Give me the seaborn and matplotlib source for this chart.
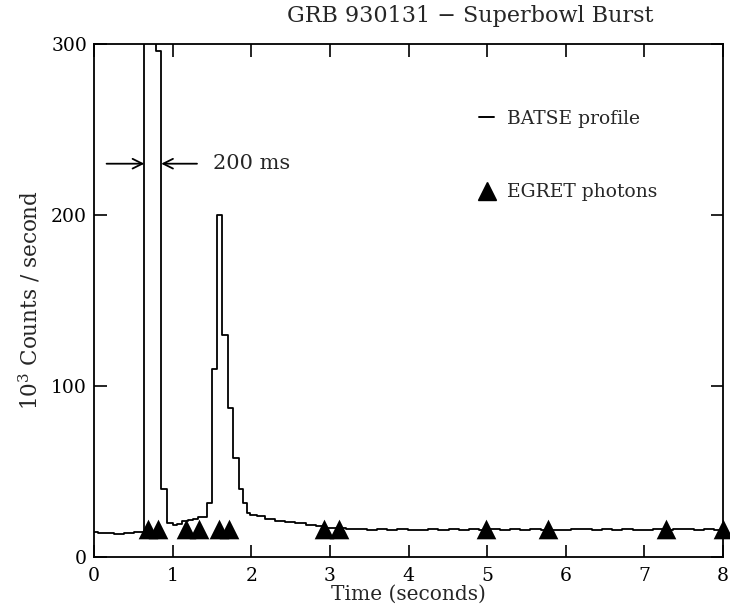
import matplotlib
matplotlib.use("Agg")
import matplotlib.pyplot as plt
import seaborn as sns
import pandas as pd
from matplotlib.lines import Line2D

# ---------------- data ----------------
# BATSE profile: left edge of each time bin (s) and rate (10^3 counts / s)
batse_time = [0.00, 0.05, 0.13, 0.26, 0.38, 0.51, 0.64, 0.79, 0.855, 0.93,
              1.00, 1.06, 1.12, 1.19, 1.26, 1.32, 1.434, 1.498, 1.568, 1.632,
              1.705, 1.77, 1.84, 1.90, 1.94, 1.99, 2.07, 2.17, 2.30, 2.43,
              2.56, 2.69, 2.82, 2.95, 3.08, 3.21, 3.34, 3.47, 3.60, 3.73,
              3.86, 3.99, 4.12, 4.25, 4.38, 4.51, 4.64, 4.77, 4.90, 5.03,
              5.16, 5.29, 5.42, 5.55, 5.68, 5.81, 5.94, 6.07, 6.20, 6.33,
              6.46, 6.59, 6.72, 6.85, 6.98, 7.11, 7.24, 7.37, 7.50, 7.63,
              7.76, 7.89, 8.00]
batse_rate = [14.8, 13.8, 14.0, 13.6, 14.2, 14.4, 350.0, 296.0, 40.0, 20.0,
              19.0, 19.5, 21.0, 21.5, 22.5, 23.2, 31.5, 110.0, 200.0, 130.0,
              87.0, 58.0, 40.0, 31.5, 26.0, 24.5, 23.8, 22.5, 21.3, 20.4,
              19.6, 18.8, 18.0, 17.2, 16.8, 16.2, 16.5, 15.9, 16.2, 15.8,
              16.4, 15.7, 16.0, 16.3, 15.6, 16.1, 15.8, 16.4, 15.9, 16.2,
              15.7, 16.3, 15.9, 16.5, 15.8, 16.0, 15.6, 16.2, 16.4, 15.9,
              16.1, 15.7, 16.3, 16.0, 15.8, 16.4, 15.9, 16.1, 16.6, 15.9,
              16.2, 16.0, 16.0]

# EGRET photon arrival times (s) and plotting level
egret_time = [0.69, 0.81, 1.17, 1.34, 1.59, 1.72, 2.93, 3.11, 4.98, 5.78, 7.28, 8.00]
egret_level = [16.5] * len(egret_time)

x_ticks = [0, 1, 2, 3, 4, 5, 6, 7, 8]
y_ticks = [0, 100, 200, 300]

title = "GRB 930131 \u2212 Superbowl Burst"
xlabel = "Time (seconds)"
ylabel = "$10^3$ Counts / second"
legend_labels = ["BATSE profile", "EGRET photons"]
width_label = "200 ms"

# ---------------- style ----------------
sns.set_style("ticks")
plt.rcParams["font.family"] = ["DejaVu Serif"]
plt.rcParams["mathtext.fontset"] = "dejavuserif"

W, H = 730, 615
fig = plt.figure(figsize=(W / 100, H / 100), dpi=100)
ax = fig.add_axes([94 / W, 1 - 557 / H, (723 - 94) / W, (557 - 44) / H])

df = pd.DataFrame({"t": batse_time, "rate": batse_rate})
sns.lineplot(data=df, x="t", y="rate", ax=ax, drawstyle="steps-post",
             color="black", linewidth=1.3, sort=False, estimator=None)

pf = pd.DataFrame({"t": egret_time, "y": egret_level})
sns.scatterplot(data=pf, x="t", y="y", ax=ax, marker="^", s=200,
                color="black", edgecolor="black", linewidth=0, clip_on=False,
                zorder=5)

ax.set_xlim(0, 8)
ax.set_ylim(0, 300)
ax.set_xticks(x_ticks)
ax.set_yticks(y_ticks)
ax.tick_params(direction="in", length=9, width=1.2, top=True, right=True,
               labelsize=13.5, colors="black")
ax.tick_params(axis="y", pad=5)
ax.tick_params(axis="x", pad=7, labeltop=False)
for s in ax.spines.values():
    s.set_linewidth(1.3)
    s.set_color("black")

ax.set_xlabel(xlabel, fontsize=14.5, labelpad=0)
ax.set_ylabel(ylabel, fontsize=15.5, labelpad=6)
fig.text(470 / W, 1 - 16 / H, title, fontsize=16, ha="center", va="center")

# 200 ms width arrows
ax.annotate("", xy=(0.64, 230), xytext=(0.16, 230),
            arrowprops=dict(arrowstyle="->,head_length=0.7,head_width=0.35",
                            color="black", lw=1.3, shrinkA=0, shrinkB=0))
ax.annotate("", xy=(0.855, 230), xytext=(1.31, 230),
            arrowprops=dict(arrowstyle="->,head_length=0.7,head_width=0.35",
                            color="black", lw=1.3, shrinkA=0, shrinkB=0))
ax.text(1.51, 230, width_label, fontsize=15, va="center", ha="left")

handles = [Line2D([], [], color="black", lw=1.4),
           Line2D([], [], color="black", marker="^", ls="none", markersize=13)]
ax.legend(handles, legend_labels, loc="upper left",
          bbox_to_anchor=((479 - 94) / (723 - 94), (557 - 110) / (557 - 44)),
          frameon=False, fontsize=13.5, handlelength=0.8, handletextpad=0.7,
          labelspacing=2.95, borderaxespad=0, borderpad=0)

fig.savefig("out.png", dpi=100)
